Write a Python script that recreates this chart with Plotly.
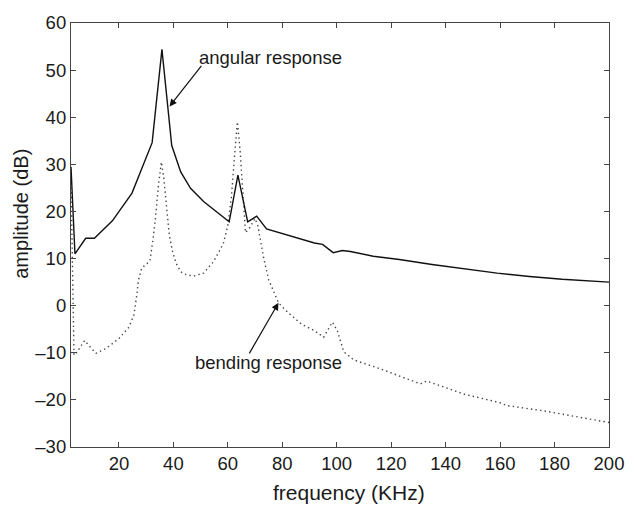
import plotly.graph_objects as go

# angular response (solid)
ang_f = [2.4, 3.85, 7.8, 11.0, 17.6, 24.8, 32.2, 35.8, 39.4, 42.7, 46.3, 51.1, 60.5, 63.7,
         67.3, 70.6, 74.2, 82.2, 91.8, 94.8, 98.7, 102, 105, 113.4, 123, 135, 146.9, 158.9,
         170.8, 182.8, 200]
ang_db = [29.5, 11.0, 14.3, 14.3, 18.0, 23.9, 34.6, 54.4, 34.0, 28.4, 24.9, 22.1, 17.8, 27.7,
          17.8, 19.0, 16.3, 14.9, 13.3, 13.0, 11.25, 11.7, 11.5, 10.5, 9.8, 8.75, 7.8, 6.9,
          6.2, 5.6, 5.0]

# bending response (dotted)
bend_f = [2.4, 3.5, 4.4, 6, 7.4, 9, 11.6, 15.2, 20, 23.6, 25.5, 26.5, 27.2, 28.4, 30, 31.4,
          32.5, 33.5, 34.4, 35.6, 36.5, 37.5, 38.5, 39.7, 41, 42.7, 45, 47.5, 51.1, 54.7,
          58.3, 60, 61.3, 62.5, 63.5, 64.5, 65.5, 66.5, 68, 70, 71, 72, 73.2, 75, 78.6,
          82.2, 87, 91.8, 95.2, 98.4, 100.2, 102.6, 106.2, 116.9, 130.7, 133, 146.9, 160,
          162.4, 176.8, 198.3, 200]
bend_db = [27, -10.5, -10.0, -8.5, -7.4, -8.5, -10.1, -9.1, -7.0, -4.6, -2, 2, 5.5, 8.0, 8.8, 9.5,
           14, 19, 25, 30.5, 27, 21, 15, 11.5, 9.0, 7.2, 6.5, 6.3, 6.9, 9.3,
           13.1, 17, 23, 32, 39, 33, 24, 15.5, 16.5, 18.5, 17, 13.5, 10, 5.5, 0.6,
           -1.5, -3.9, -5.3, -6.7, -3.5, -5.3, -9.8, -11.5, -13.6, -16.6, -16.0, -18.8, -20.6,
           -21.2, -22.4, -24.7, -24.8]

x_ticks = [20, 40, 60, 80, 100, 120, 140, 160, 180, 200]
y_ticks = [-30, -20, -10, 0, 10, 20, 30, 40, 50, 60]

FONT = "Liberation Sans, Arial, Helvetica, sans-serif"
TXT = "#1a1a1a"

fig = go.Figure()
fig.add_trace(go.Scatter(x=bend_f, y=bend_db, mode="lines",
                         line=dict(color="#444444", width=1.4, dash="1.4px,3.2px"), showlegend=False))
fig.add_trace(go.Scatter(x=ang_f, y=ang_db, mode="lines",
                         line=dict(color="#111111", width=1.4), showlegend=False))

axis_common = dict(showgrid=False, zeroline=False, showline=True, linecolor="#444444",
                   linewidth=1.2, mirror="ticks", ticks="inside", ticklen=5,
                   tickcolor="#444444", tickfont=dict(family=FONT, size=18.5, color=TXT))

fig.update_xaxes(range=[2.4, 200], tickvals=x_ticks, ticktext=[str(v) for v in x_ticks],
                 **axis_common)
fig.update_yaxes(range=[-30, 60], tickvals=y_ticks,
                 ticktext=[str(v).replace("-", "\u2013") for v in y_ticks],
                 **axis_common)

# axis titles
fig.add_annotation(xref="paper", yref="paper", x=0.517, y=-0.108, text="frequency (KHz)",
                   showarrow=False, xanchor="center", yanchor="middle",
                   font=dict(family=FONT, size=21, color=TXT))
fig.add_annotation(xref="paper", yref="paper", x=-0.093, y=0.55, text="amplitude (dB)",
                   showarrow=False, xanchor="center", yanchor="middle", textangle=-90,
                   font=dict(family=FONT, size=20, color=TXT))

# annotations: arrows (offsets in pixels from the tip) and text labels
fig.add_annotation(x=38.6, y=42.3, ax=33, ay=-42, axref="pixel", ayref="pixel",
                   text="", showarrow=True, arrowhead=2, arrowsize=1.2, arrowwidth=1.2,
                   arrowcolor="#111111")
fig.add_annotation(x=78.6, y=0.6, ax=-30, ay=52, axref="pixel", ayref="pixel",
                   text="", showarrow=True, arrowhead=2, arrowsize=1.2, arrowwidth=1.2,
                   arrowcolor="#111111")
fig.add_annotation(x=75.8, y=52.6, text="angular response", showarrow=False,
                   font=dict(family=FONT, size=18.5, color=TXT))
fig.add_annotation(x=74.8, y=-12.0, text="bending response", showarrow=False,
                   font=dict(family=FONT, size=18.5, color=TXT))

fig.update_layout(width=636, height=514, margin=dict(l=71, r=16, t=15, b=67),
                  paper_bgcolor="white", plot_bgcolor="white")

fig.write_html("out.html", config={"displayModeBar": False},
               post_script="document.body.style.margin='0';document.body.style.padding='0';")
